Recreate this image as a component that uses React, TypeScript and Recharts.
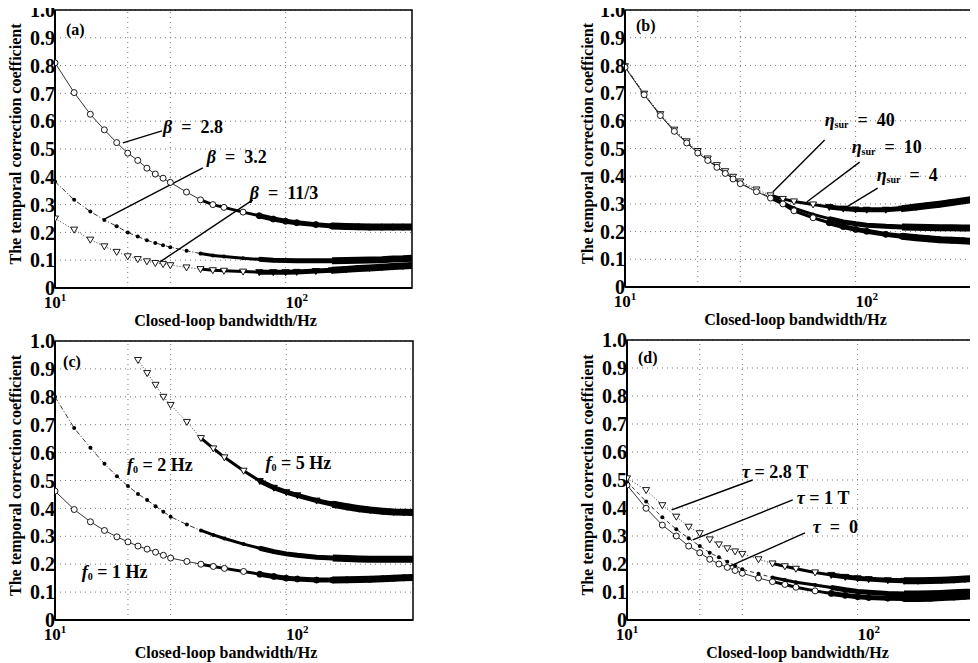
import React from 'react';
import {
  LineChart,
  Line,
  XAxis,
  YAxis,
  CartesianGrid,
  ReferenceLine,
  ReferenceArea,
  ReferenceDot,
  Label,
} from 'recharts';

const SERIF = "'Liberation Serif', 'DejaVu Serif', serif";

// frequency samples (Hz), shared by all four panels
const FREQ_HZ = [10, 12, 14, 16, 18, 20, 22, 24, 26, 28, 30, 35, 40, 45, 50, 60, 70, 80, 90, 100, 120, 140, 160, 180, 200, 225, 250, 275, 300];

// (a) turbulence power exponent
const BETA_28 = [0.81, 0.703, 0.625, 0.569, 0.523, 0.485, 0.459, 0.431, 0.41, 0.395, 0.38, 0.345, 0.317, 0.3, 0.29, 0.273, 0.26, 0.248, 0.24, 0.235, 0.228, 0.223, 0.221, 0.22, 0.219, 0.219, 0.219, 0.219, 0.219];
const BETA_32 = [0.383, 0.317, 0.275, 0.245, 0.222, 0.2, 0.185, 0.172, 0.162, 0.154, 0.147, 0.134, 0.124, 0.117, 0.113, 0.107, 0.103, 0.1, 0.099, 0.098, 0.098, 0.098, 0.099, 0.1, 0.101, 0.102, 0.104, 0.105, 0.107];
const BETA_113 = [0.25, 0.21, 0.174, 0.15, 0.13, 0.114, 0.104, 0.096, 0.09, 0.086, 0.082, 0.074, 0.068, 0.064, 0.062, 0.059, 0.057, 0.057, 0.057, 0.058, 0.061, 0.064, 0.067, 0.07, 0.072, 0.075, 0.077, 0.079, 0.081];

// (b) sensor SNR
const ETA_4 = [0.797, 0.698, 0.624, 0.568, 0.526, 0.491, 0.464, 0.44, 0.418, 0.398, 0.381, 0.352, 0.331, 0.318, 0.309, 0.298, 0.289, 0.283, 0.28, 0.279, 0.279, 0.283, 0.289, 0.294, 0.299, 0.305, 0.311, 0.316, 0.32];
const ETA_10 = [0.795, 0.696, 0.621, 0.564, 0.522, 0.486, 0.459, 0.434, 0.412, 0.392, 0.375, 0.346, 0.324, 0.305, 0.285, 0.262, 0.247, 0.235, 0.228, 0.223, 0.219, 0.217, 0.216, 0.215, 0.214, 0.214, 0.213, 0.213, 0.213];
const ETA_40 = [0.793, 0.694, 0.619, 0.562, 0.52, 0.484, 0.457, 0.432, 0.41, 0.39, 0.373, 0.344, 0.321, 0.3, 0.275, 0.25, 0.232, 0.218, 0.208, 0.201, 0.19, 0.183, 0.178, 0.174, 0.171, 0.169, 0.167, 0.165, 0.164];

// (c) characteristic frequency
const F0_1 = [0.462, 0.396, 0.352, 0.321, 0.298, 0.28, 0.265, 0.254, 0.243, 0.232, 0.222, 0.21, 0.2, 0.192, 0.185, 0.174, 0.164, 0.156, 0.15, 0.147, 0.143, 0.143, 0.144, 0.145, 0.146, 0.148, 0.15, 0.151, 0.152];
const F0_2 = [0.8, 0.688, 0.617, 0.56, 0.515, 0.48, 0.452, 0.43, 0.408, 0.388, 0.37, 0.342, 0.321, 0.305, 0.292, 0.272, 0.257, 0.245, 0.237, 0.232, 0.225, 0.222, 0.22, 0.219, 0.218, 0.218, 0.218, 0.218, 0.218];
const F0_5 = [null, null, null, null, null, null, 0.932, 0.885, 0.843, 0.8, 0.771, 0.71, 0.652, 0.615, 0.583, 0.535, 0.498, 0.474, 0.458, 0.447, 0.428, 0.415, 0.406, 0.399, 0.394, 0.39, 0.387, 0.386, 0.385];

// (d) loop delay
const TAU_0 = [0.482, 0.399, 0.339, 0.3, 0.264, 0.24, 0.217, 0.2, 0.188, 0.177, 0.167, 0.15, 0.137, 0.127, 0.117, 0.104, 0.095, 0.088, 0.083, 0.08, 0.078, 0.077, 0.077, 0.078, 0.08, 0.082, 0.085, 0.087, 0.089];
const TAU_1 = [0.494, 0.423, 0.367, 0.324, 0.292, 0.264, 0.24, 0.224, 0.208, 0.194, 0.181, 0.165, 0.152, 0.143, 0.135, 0.125, 0.116, 0.108, 0.102, 0.099, 0.095, 0.093, 0.093, 0.094, 0.095, 0.097, 0.099, 0.1, 0.101];
const TAU_28 = [0.506, 0.464, 0.41, 0.369, 0.333, 0.31, 0.288, 0.27, 0.256, 0.245, 0.236, 0.217, 0.202, 0.192, 0.183, 0.17, 0.161, 0.154, 0.149, 0.146, 0.142, 0.14, 0.14, 0.141, 0.142, 0.144, 0.146, 0.148, 0.149];

const Y_TICKS = [0, 0.1, 0.2, 0.3, 0.4, 0.5, 0.6, 0.7, 0.8, 0.9, 1];
const X_TICKS = [10, 100];
const GRID_X = [20, 30, 90];

const Y_TITLE = 'The temporal correction coefficient';
const X_TITLE = 'Closed-loop bandwidth/Hz';

// markers crowd into a solid band at high bandwidth
const BANDS = [
  { from: 40, width: 3 },
  { from: 70, width: 5 },
  { from: 130, width: 7 },
];
const SOLID_FROM = 70;

type Marker = 'circle' | 'dot' | 'tri';

interface SeriesDef {
  key: string;
  values: (number | null)[];
  marker: Marker;
  dash?: string;
}

interface Note {
  x: number;
  y: number;
  sym?: string;
  sub?: string;
  rest: string;
  size?: number;
}

interface Pointer {
  x1: number;
  y1: number;
  x2: number;
  y2: number;
}

const renderMarker = (kind: Marker) => (p: any) => {
  const { cx, cy, index, value, payload } = p;
  if (value == null || cx == null || cy == null || Number.isNaN(cy)) return <g key={`m-${index}`} />;
  const fill = payload && payload.f >= SOLID_FROM ? '#000' : '#fff';
  if (kind === 'circle') {
    return <circle key={`m-${index}`} cx={cx} cy={cy} r={3} fill={fill} stroke="#000" strokeWidth={0.9} />;
  }
  if (kind === 'dot') {
    return <circle key={`m-${index}`} cx={cx} cy={cy} r={2} fill="#000" />;
  }
  return (
    <path
      key={`m-${index}`}
      d={`M${cx - 3.5},${cy - 2.5} L${cx + 3.5},${cy - 2.5} L${cx},${cy + 3.5} Z`}
      fill={fill}
      stroke="#000"
      strokeWidth={0.9}
    />
  );
};

function PowTick(props: any) {
  const { x, y, payload } = props;
  const exp = Math.round(Math.log10(payload.value));
  return (
    <text x={x} y={y + 18} textAnchor="middle" fontFamily={SERIF} fontWeight="bold" fontSize={17} fill="#000">
      10
      <tspan dy={-7} fontSize={11}>
        {exp}
      </tspan>
    </text>
  );
}

function noteContent(n: Note) {
  return (props: any) => {
    const vb = props.viewBox || {};
    return (
      <text
        x={vb.x}
        y={vb.y}
        dominantBaseline="central"
        fontFamily={SERIF}
        fontWeight="bold"
        fontSize={n.size || 18}
        fill="#000"
        style={{ whiteSpace: 'pre' }}
      >
        {n.sym ? <tspan fontStyle="italic">{n.sym}</tspan> : null}
        {n.sub ? (
          <tspan fontSize={10} dy={4}>
            {n.sub}
          </tspan>
        ) : null}
        <tspan dy={n.sub ? -4 : 0}>{n.rest}</tspan>
      </text>
    );
  };
}

interface PanelProps {
  left: number;
  top: number;
  width: number;
  height: number;
  plot: { left: number; top: number; right: number; bottom: number };
  titleX: number;
  series: SeriesDef[];
  notes: Note[];
  pointers: Pointer[];
}

function Panel({ left, top, width, height, plot, titleX, series, notes, pointers }: PanelProps) {
  const rows = FREQ_HZ.map((f, i) => {
    const r: any = { f };
    series.forEach((s) => {
      r[s.key] = s.values[i];
    });
    return r;
  });

  return (
    <div style={{ position: 'absolute', left, top }}>
      <LineChart
        width={width}
        height={height}
        data={rows}
        margin={{ top: plot.top, right: plot.right, bottom: 0, left: 0 }}
      >
        <CartesianGrid vertical={false} stroke="#777" strokeDasharray="1 4" />
        {GRID_X.map((g) => (
          <ReferenceLine key={`g-${g}`} x={g} stroke="#777" strokeDasharray="1 4" />
        ))}
        <XAxis
          dataKey="f"
          type="number"
          scale="log"
          domain={[10, 300]}
          allowDataOverflow
          ticks={X_TICKS}
          interval={0}
          height={plot.bottom}
          tick={<PowTick />}
          tickLine={false}
          tickSize={0}
          axisLine={{ stroke: '#000', strokeWidth: 2 }}
        >
          <Label
            content={(props: any) => {
              const vb = props.viewBox;
              return (
                <text
                  x={vb.x + vb.width / 2 - 8}
                  y={vb.y + 38}
                  textAnchor="middle"
                  fontFamily={SERIF}
                  fontWeight="bold"
                  fontSize={16}
                  fill="#000"
                >
                  {X_TITLE}
                </text>
              );
            }}
          />
        </XAxis>
        <YAxis
          type="number"
          domain={[0, 1]}
          ticks={Y_TICKS}
          interval={0}
          width={plot.left}
          tickLine={false}
          tickSize={0}
          tickMargin={0}
          tickFormatter={(v: number) => (v === 0 ? '0' : v.toFixed(1))}
          tick={{ fill: '#000', fontSize: 20, fontWeight: 700, fontFamily: SERIF }}
          axisLine={{ stroke: '#000', strokeWidth: 2 }}
        >
          <Label
            content={(props: any) => {
              const vb = props.viewBox;
              const cy = vb.y + vb.height / 2 - 5;
              return (
                <text
                  x={titleX}
                  y={cy}
                  transform={`rotate(-90 ${titleX} ${cy})`}
                  textAnchor="middle"
                  dominantBaseline="central"
                  fontFamily={SERIF}
                  fontWeight="bold"
                  fontSize={16}
                  fill="#000"
                >
                  {Y_TITLE}
                </text>
              );
            }}
          />
        </YAxis>

        {series.map((s) => (
          <Line
            key={s.key}
            dataKey={s.key}
            stroke="#000"
            strokeWidth={0.8}
            strokeDasharray={s.dash}
            dot={renderMarker(s.marker)}
            activeDot={false}
            isAnimationActive={false}
          />
        ))}
        {series.map((s) =>
          BANDS.map((b) => (
            <Line
              key={`${s.key}-band-${b.from}`}
              dataKey={(r: any) => (r.f >= b.from ? r[s.key] : null)}
              stroke="#000"
              strokeWidth={b.width}
              dot={false}
              activeDot={false}
              isAnimationActive={false}
            />
          ))
        )}

        {pointers.map((p, i) => (
          <ReferenceLine
            key={`p-${i}`}
            segment={[
              { x: p.x1, y: p.y1 },
              { x: p.x2, y: p.y2 },
            ]}
            stroke="#000"
            strokeWidth={1.4}
            ifOverflow="visible"
          />
        ))}
        {notes.map((n, i) => (
          <ReferenceDot
            key={`n-${i}`}
            x={n.x}
            y={n.y}
            r={0}
            fill="none"
            stroke="none"
            ifOverflow="visible"
            label={noteContent(n)}
          />
        ))}
        <ReferenceArea x1={10} x2={300} y1={0} y2={1} fill="none" stroke="#000" strokeWidth={1.5} ifOverflow="visible" />
      </LineChart>
    </div>
  );
}

const SERIES_A: SeriesDef[] = [
  { key: 'b28', values: BETA_28, marker: 'circle' },
  { key: 'b32', values: BETA_32, marker: 'dot', dash: '5 2 1 2' },
  { key: 'b113', values: BETA_113, marker: 'tri', dash: '1 2' },
];
const NOTES_A: Note[] = [
  { x: 11.1, y: 0.93, rest: '(a)', size: 16 },
  { x: 28, y: 0.58, sym: 'β', rest: '  =  2.8' },
  { x: 42.5, y: 0.47, sym: 'β', rest: '  =  3.2' },
  { x: 64, y: 0.342, sym: 'β', rest: '  =  11/3' },
];
const POINTERS_A: Pointer[] = [
  { x1: 27.7, y1: 0.565, x2: 19.1, y2: 0.522 },
  { x1: 40.9, y1: 0.432, x2: 15.8, y2: 0.245 },
  { x1: 65.8, y1: 0.317, x2: 27.2, y2: 0.094 },
];

const SERIES_B: SeriesDef[] = [
  { key: 'e4', values: ETA_4, marker: 'tri', dash: '1 2' },
  { key: 'e10', values: ETA_10, marker: 'dot', dash: '5 2 1 2' },
  { key: 'e40', values: ETA_40, marker: 'circle' },
];
const NOTES_B: Note[] = [
  { x: 11.1, y: 0.945, rest: '(b)', size: 16 },
  { x: 67, y: 0.603, sym: 'η', sub: 'sur', rest: '  =  40' },
  { x: 86.7, y: 0.505, sym: 'η', sub: 'sur', rest: '  =  10' },
  { x: 110, y: 0.404, sym: 'η', sub: 'sur', rest: '  =  4' },
];
const POINTERS_B: Pointer[] = [
  { x1: 67, y1: 0.531, x2: 40.9, y2: 0.343 },
  { x1: 93.5, y1: 0.451, x2: 56.5, y2: 0.307 },
  { x1: 111, y1: 0.357, x2: 81.1, y2: 0.285 },
];

const SERIES_C: SeriesDef[] = [
  { key: 'f1', values: F0_1, marker: 'circle' },
  { key: 'f2', values: F0_2, marker: 'dot', dash: '5 2 1 2' },
  { key: 'f5', values: F0_5, marker: 'tri', dash: '1 2' },
];
const NOTES_C: Note[] = [
  { x: 10.8, y: 0.93, rest: '(c)', size: 16 },
  { x: 19.8, y: 0.556, sym: 'f', sub: '0', rest: ' = 2 Hz' },
  { x: 73.8, y: 0.563, sym: 'f', sub: '0', rest: ' = 5 Hz' },
  { x: 12.9, y: 0.172, sym: 'f', sub: '0', rest: ' = 1 Hz' },
];

const SERIES_D: SeriesDef[] = [
  { key: 't0', values: TAU_0, marker: 'circle' },
  { key: 't1', values: TAU_1, marker: 'dot', dash: '4 3' },
  { key: 't28', values: TAU_28, marker: 'tri', dash: '1 2' },
];
const NOTES_D: Note[] = [
  { x: 11.1, y: 0.94, rest: '(d)', size: 16 },
  { x: 29.9, y: 0.529, sym: 'τ', rest: ' = 2.8 T' },
  { x: 50.4, y: 0.436, sym: 'τ', rest: ' = 1 T' },
  { x: 58.7, y: 0.332, sym: 'τ', rest: '  =  0' },
];
const POINTERS_D: Pointer[] = [
  { x1: 33.1, y1: 0.5, x2: 15.3, y2: 0.393 },
  { x1: 48.5, y1: 0.429, x2: 18.7, y2: 0.286 },
  { x1: 54.5, y1: 0.311, x2: 26.1, y2: 0.189 },
];

export default function App() {
  return (
    <div
      style={{
        position: 'relative',
        width: 978,
        height: 663,
        margin: '-8px 0 0 -8px',
        overflow: 'hidden',
        background: '#fff',
      }}
    >
      <Panel
        left={0}
        top={0}
        width={430}
        height={330}
        plot={{ left: 55, top: 10, right: 18, bottom: 42 }}
        titleX={15}
        series={SERIES_A}
        notes={NOTES_A}
        pointers={POINTERS_A}
      />
      <Panel
        left={490}
        top={0}
        width={500}
        height={330}
        plot={{ left: 135, top: 10, right: 8, bottom: 43 }}
        titleX={97}
        series={SERIES_B}
        notes={NOTES_B}
        pointers={POINTERS_B}
      />
      <Panel
        left={0}
        top={330}
        width={430}
        height={333}
        plot={{ left: 55, top: 11, right: 17, bottom: 43 }}
        titleX={15}
        series={SERIES_C}
        notes={NOTES_C}
        pointers={[]}
      />
      <Panel
        left={490}
        top={330}
        width={500}
        height={333}
        plot={{ left: 137, top: 10, right: 6, bottom: 43 }}
        titleX={97}
        series={SERIES_D}
        notes={NOTES_D}
        pointers={POINTERS_D}
      />
    </div>
  );
}
